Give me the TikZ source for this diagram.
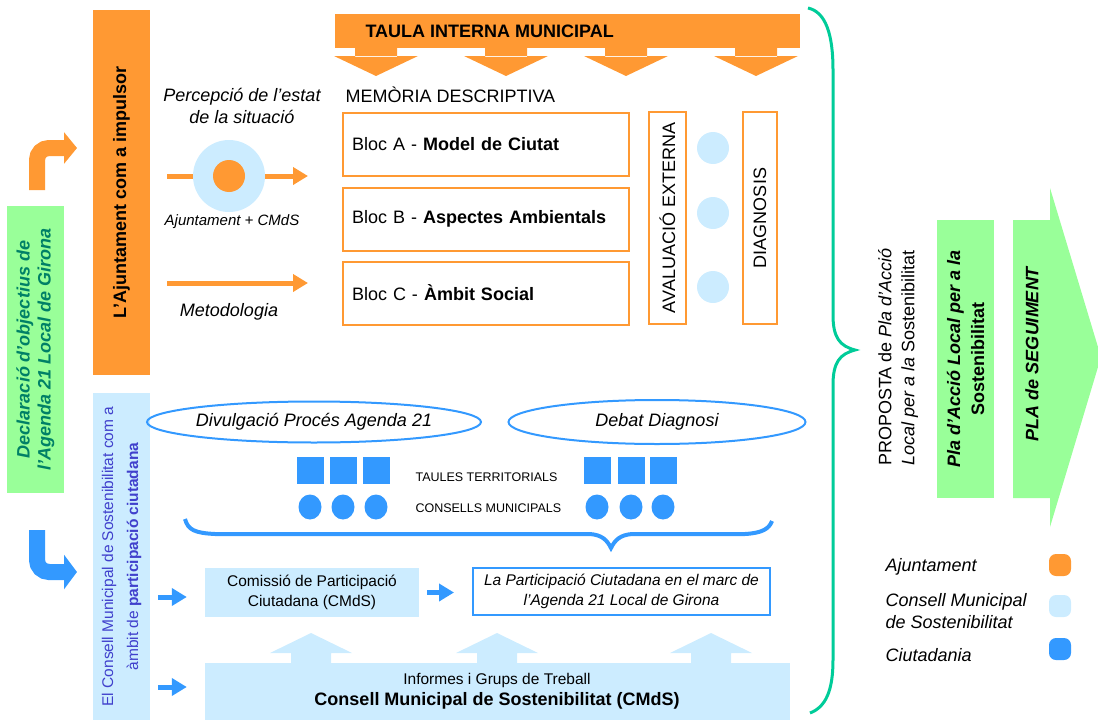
\documentclass[tikz,border=0pt]{standalone}
\usepackage{fontspec}
\setmainfont{Liberation Sans}
\usepackage{tikz}
\usetikzlibrary{positioning,arrows.meta,shapes.geometric,calc}
\definecolor{taronja}{RGB}{255,153,51}
\definecolor{celest}{RGB}{204,236,255}
\definecolor{blau}{RGB}{51,153,255}
\definecolor{verd}{RGB}{153,255,153}
\definecolor{turquesa}{RGB}{0,204,153}
\definecolor{verdfosc}{RGB}{0,128,102}
\definecolor{blaufosc}{RGB}{64,64,204}
\newcommand{\mida}[2]{\fontsize{#1}{#2}\selectfont}

\begin{document}
\begin{tikzpicture}[x=1pt,y=-1pt,
  barra/.style={rotate=90,minimum height=57pt,inner sep=0pt,align=center},
  bloc/.style={draw=taronja,line width=2pt,minimum width=286pt,minimum height=63pt,text width=268pt,inner xsep=9pt,align=left,font=\mida{18}{22}},
  columna/.style={draw=taronja,line width=2pt,rotate=90,minimum width=212pt,inner sep=0pt,font=\mida{18}{22}},
  punt/.style={circle,fill=celest,minimum size=32pt,inner sep=0pt},
  quadre/.style={fill=blau,minimum size=27pt,inner sep=0pt},
  rodona/.style={ellipse,fill=blau,minimum width=23pt,minimum height=25pt,inner sep=0pt},
  bombolla/.style={ellipse,draw=blau,line width=2pt,inner sep=0pt,font=\mida{18}{22}\itshape},
  fletxa/.style={line width=5pt,-{Triangle[length=15pt,width=17pt]}},
  llegenda/.style={rounded corners=7pt,minimum size=22pt,inner sep=0pt},
  lletra/.style={font=\mida{18}{22}}]
  \useasboundingbox (0,0) rectangle (1098,720);

  \node[barra,fill=verd,minimum width=287pt,text=verdfosc,font=\mida{18}{21}\bfseries\itshape] (declaracio) at (35.5,349.5) {Declaració d'objectius de\\l'Agenda 21 Local de Girona};
  \coordinate (gir1) at (37,190);
  \coordinate (gir1fi) at (77,148);
  \coordinate (gir2) at (37,530);
  \coordinate (gir2fi) at (77,572);
  \draw[taronja,line width=16pt,rounded corners=12pt,-{Triangle[length=13pt,width=31pt]}] (gir1) |- (gir1fi);
  \draw[blau,line width=16pt,rounded corners=12pt,-{Triangle[length=13pt,width=34pt]}] (gir2) |- (gir2fi);

  \node[barra,fill=taronja,minimum width=365pt,font=\mida{18}{22}\bfseries] (impulsor) at (121.5,192.5) {L'Ajuntament com a impulsor};
  \node[barra,fill=celest,minimum width=327pt,text=blaufosc,font=\mida{15.5}{25}] (consellbarra) at (121.5,556.5) {El Consell Municipal de Sostenibilitat com a\\àmbit de \textbf{participació ciutadana}};

  \node[lletra,font=\mida{18}{22}\itshape,align=center] (percepcio) at (242,106) {Percepció de l'estat\\de la situació};
  \coordinate (p1) at (167,176);
  \coordinate (p2) at (308,176);
  \draw[taronja,fletxa] (p1) -- (p2);
  \node[circle,fill=celest,minimum size=72pt,inner sep=0pt] (estat) at (229,176) {};
  \node[circle,fill=taronja,minimum size=32pt,inner sep=0pt] (ajcercle) at (estat) {};
  \node[font=\mida{15}{18}\itshape] (ajcmds) at (232,222) {Ajuntament + CMdS};
  \coordinate (m1) at (167,283);
  \coordinate (m2) at (308,283);
  \draw[taronja,fletxa] (m1) -- (m2);
  \node[font=\mida{18}{22}\itshape] (metodologia) at (229,312) {Metodologia};

  \node[fill=taronja,minimum width=465pt,minimum height=34pt,inner sep=0pt] (taula) at (567.5,31) {};
  \node[anchor=west,font=\mida{18}{22}\bfseries] (taulatxt) at (362,31) {TAULA INTERNA MUNICIPAL};
  \foreach \xa in {376,506,626,756}
    \fill[taronja] (\xa-21,47) rectangle (\xa+21,57) (\xa-42,56) -- (\xa+42,56) -- (\xa,76) -- cycle;

  \node[lletra,anchor=west] (memoria) at (342,95) {MEMÒRIA DESCRIPTIVA};
  \node[bloc] (blocA) at (486,144) {Bloc A - \textbf{Model de Ciutat}};
  \node[bloc] (blocB) at (486,219) {Bloc B - \textbf{Aspectes Ambientals}};
  \node[bloc] (blocC) at (486,293) {Bloc C - \textbf{Àmbit Social}};
  \node[columna,minimum height=37pt] (avaluacio) at (667.5,218) {AVALUACIÓ EXTERNA};
  \node[columna,minimum height=34pt] (diagnosis) at (760,218) {DIAGNOSIS};
  \node[punt] (c1) at (713,148) {};
  \node[punt] (c2) at (713,213) {};
  \node[punt] (c3) at (713,287) {};

  \draw[turquesa,line width=3pt] (808,8) .. controls (826,12) and (833,35) .. (833,70) -- (833,315) .. controls (833,338) and (840,346) .. (855,350) .. controls (840,354) and (833,362) .. (833,385) -- (833,660) .. controls (833,690) and (826,707) .. (810,713);

  \node[rotate=90,align=left,font=\mida{18}{23}] (proposta) at (898,357) {PROPOSTA de \textit{Pla d'Acció}\\\textit{Local per a la} Sostenibilitat};
  \node[barra,fill=verd,minimum width=278pt,font=\mida{18}{24}\bfseries] (plaaccio) at (965.5,359) {\textit{Pla d'Acció Local per a la}\\Sostenibilitat};
  \fill[verd] (1013,220) -- (1050,220) -- (1050,188) -- (1101,357) -- (1050,527) -- (1050,498) -- (1013,498) -- cycle;
  \node[rotate=90,font=\mida{18}{22}\bfseries\itshape] (seguiment) at (1032,354) {PLA de SEGUIMENT};

  \node[anchor=west,font=\mida{18}{22}\itshape] (llaj) at (882,567) {Ajuntament};
  \node[anchor=west,align=left,font=\mida{18}{22}\itshape] (llcons) at (882,611) {Consell Municipal\\de Sostenibilitat};
  \node[anchor=west,font=\mida{18}{22}\itshape] (llciu) at (882,655) {Ciutadania};
  \node[llegenda,fill=taronja] (qaj) at (1060,565) {};
  \node[llegenda,fill=celest] (qcons) at (1060,606) {};
  \node[llegenda,fill=blau] (qciu) at (1060,649) {};

  \node[bombolla,minimum width=296pt,minimum height=41pt] (divulgacio) at (314,422) {Divulgació Procés Agenda 21};
  \node[bombolla,minimum width=297pt,minimum height=44pt] (debat) at (657,422) {Debat Diagnosi};
  \foreach \xq in {310,343,376,597,631,663} {
    \node[quadre] (q\xq) at (\xq,470) {};
    \node[rodona] (r\xq) at (\xq,507) {};
  }
  \node[anchor=west,font=\mida{12.5}{15}] (taules) at (412,477) {TAULES TERRITORIALS};
  \node[anchor=west,font=\mida{12.5}{15}] (consells) at (412,508) {CONSELLS MUNICIPALS};
  \draw[blau,line width=4pt] (185,519) .. controls (188,530) and (195,533) .. (215,534) -- (590,534) .. controls (602,535) and (607,540) .. (611,548) .. controls (615,540) and (620,535) .. (632,534) -- (745,534) .. controls (762,533) and (769,529) .. (772,521);

  \node[fill=celest,minimum width=214pt,minimum height=49pt,inner sep=0pt,align=center,font=\mida{15.5}{20}] (comissio) at (312,592.5) {Comissió de Participació\\Ciutadana (CMdS)};
  \node[draw=blau,line width=2pt,fill=white,minimum width=297pt,minimum height=47pt,inner sep=0pt,align=center,font=\mida{15.5}{20}\itshape] (participacio) at (621.5,591.5) {La Participació Ciutadana en el marc de\\l'Agenda 21 Local de Girona};
  \node[fill=celest,minimum width=585pt,minimum height=57pt,inner sep=0pt] (consell) at (497.5,691.5) {};
  \node[font=\mida{15.5}{18}] (informes) at (497,680) {Informes i Grups de Treball};
  \node[font=\mida{18}{20}\bfseries] (cmds) at (497,701) {Consell Municipal de Sostenibilitat (CMdS)};
  \foreach \xu in {311,497,711}
    \fill[celest] (\xu-20,664) -- (\xu-20,653) -- (\xu-41,653) -- (\xu,633) -- (\xu+41,653) -- (\xu+20,653) -- (\xu+20,664) -- cycle;

  \coordinate (ent1) at (158,597);
  \coordinate (ent2) at (158,687);
  \draw[blau,fletxa,shorten >=18pt] (ent1) -- (ent1 -| comissio.west);
  \draw[blau,fletxa,shorten >=18pt] (ent2) -- (ent2 -| consell.west);
  \draw[blau,fletxa,shorten <=8pt,shorten >=18pt] (comissio.east) -- (comissio.east -| participacio.west);
\end{tikzpicture}
\end{document}
